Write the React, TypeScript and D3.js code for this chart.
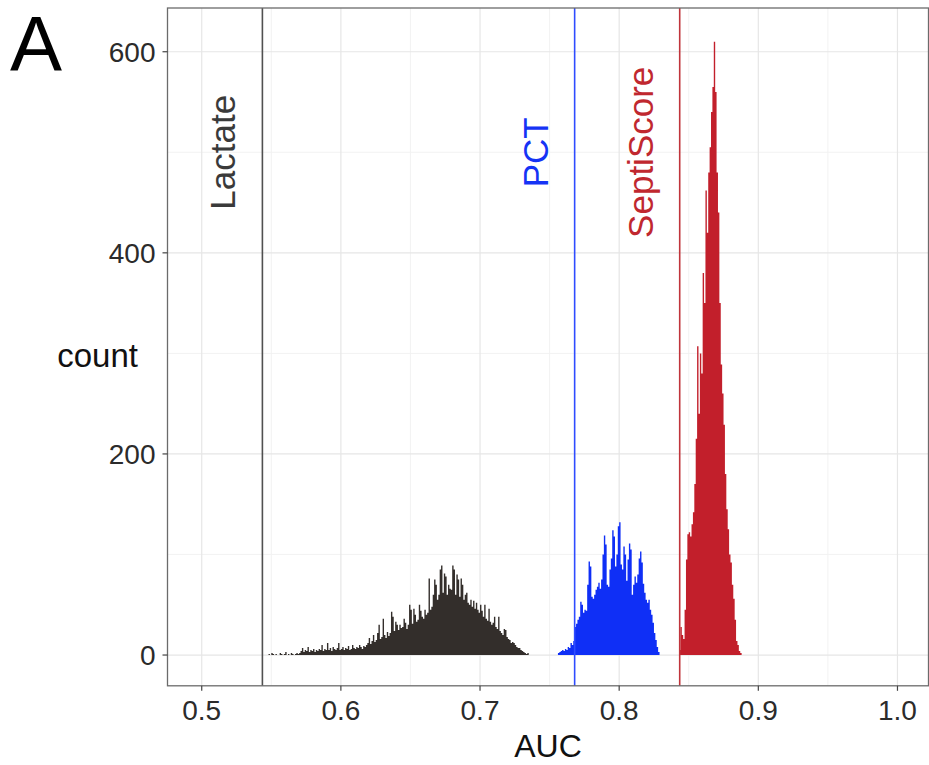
import React from "react";
import * as d3 from "d3";

// ---------- data ----------
const BIN_WIDTH = 0.001;

const lactateStart = 0.548;
const lactateCounts = [
  1, 0, 2, 1, 0, 1, 0, 0, 2, 1, 0, 1, 3, 0, 1, 0, 2, 1, 0, 1, 2, 1, 2,
  4, 7, 3, 5, 4, 8, 3, 5, 4, 6,
  3, 5, 4, 6, 5, 10, 4, 6, 5, 12,
  5, 7, 4, 8, 6, 5, 7, 12, 5, 6,
  8, 5, 7, 6, 9, 5, 6, 10, 7, 6,
  8, 7, 10, 8, 6, 9, 8,
  10, 12, 17, 11, 14, 20, 13, 15, 22, 30, 16, 18, 36, 20, 17, 23, 19,
  22, 43, 38, 24, 33, 30, 25, 30, 27, 28,
  36, 32, 26, 30, 50, 45, 31, 46, 40, 33,
  35, 50, 44, 38, 36, 45, 40, 42, 76,
  45, 48, 60, 75, 70, 55, 60, 85, 89, 62,
  81, 78, 60, 70, 66, 65, 89, 85, 60, 80,
  75, 58, 76, 70, 55, 60, 62, 52, 50, 55,
  48, 54, 46, 52, 45, 42, 50, 44,
  38, 50, 36, 34, 46, 33, 30, 32, 38, 28,
  26, 38, 24, 22, 20, 26, 25, 18, 16, 15,
  12, 13, 12, 10, 8, 7, 7, 5, 4, 3,
  2, 1, 2,
];

const pctStart = 0.756;
const pctCounts = [
  2, 3, 4, 5, 4, 6, 5, 8, 7, 12,
  10, 14, 28, 31, 35, 38, 53, 50, 42, 45,
  44, 70, 93, 88, 58, 56, 60, 65, 68, 72,
  66, 75, 100, 119, 110, 70, 68, 85, 96, 124,
  118, 88, 100, 128, 132, 90, 85, 108, 100, 74,
  95, 111, 105, 60, 70, 78, 72, 80, 96, 103,
  92, 71, 62, 55, 52, 55, 45, 40, 32, 22,
  15, 8, 3,
];

const septiStart = 0.843;
const septiCounts = [
  5, 28, 20, 16, 45, 95, 120, 122, 118, 130,
  142, 170, 215, 307, 240, 300, 280, 380, 350, 462,
  420, 480, 505, 540, 565, 610, 560, 480, 440, 350,
  289, 260, 229, 180, 145, 125, 100, 92, 70, 56,
  35, 14, 10, 4, 2,
];

const refNames = ["Lactate", "PCT", "SeptiScore"];
const refAUC = [0.5436, 0.768, 0.8435];
const labelCount = 500;

const xTicks = [0.5, 0.6, 0.7, 0.8, 0.9, 1.0];
const xTickLabels = ["0.5", "0.6", "0.7", "0.8", "0.9", "1.0"];
const xMinor = [0.55, 0.65, 0.75, 0.85, 0.95];
const yTicks = [0, 200, 400, 600];
const yTickLabels = ["0", "200", "400", "600"];
const yMinor = [100, 300, 500];

// ---------- styles ----------
const FONT = "'Liberation Sans', Arial, Helvetica, sans-serif";
const histColors = ["#332e2b", "#0f2ff6", "#c21f2b"];
const lineColors = ["#505050", "#2f4cff", "#c0343b"];
const textColors = ["#3a3a3a", "#1533f5", "#c0282f"];

const W = 929;
const H = 765;
const panel = { left: 167.5, right: 928.5, top: 8, bottom: 685.8 };

export default function App() {
  const x = d3.scaleLinear().domain([0.4754, 1.0223]).range([panel.left, panel.right]);
  const y = d3.scaleLinear().domain([-30.6, 643.5]).range([panel.bottom, panel.top]);

  const series = [
    { start: lactateStart, counts: lactateCounts },
    { start: pctStart, counts: pctCounts },
    { start: septiStart, counts: septiCounts },
  ];

  const area = d3
    .area<{ a: number; c: number }>()
    .x((d) => x(d.a))
    .y0(y(0))
    .y1((d) => y(d.c))
    .curve(d3.curveStepAfter);

  const paths = series.map((s) => {
    const pts = s.counts.map((c, i) => ({ a: s.start + i * BIN_WIDTH, c }));
    pts.push({ a: s.start + s.counts.length * BIN_WIDTH, c: s.counts[s.counts.length - 1] });
    return area(pts) || "";
  });

  return (
    <svg
      width={W}
      height={H}
      style={{ position: "absolute", left: 0, top: 0, background: "#fff" }}
      fontFamily={FONT}
    >
      <rect x={0} y={0} width={W} height={H} fill="#fff" />
      {/* minor grid */}
      {xMinor.map((v) => (
        <line key={"xm" + v} x1={x(v)} x2={x(v)} y1={panel.top} y2={panel.bottom} stroke="#f0f0f0" strokeWidth={0.9} />
      ))}
      {yMinor.map((v) => (
        <line key={"ym" + v} x1={panel.left} x2={panel.right} y1={y(v)} y2={y(v)} stroke="#f0f0f0" strokeWidth={0.9} />
      ))}
      {/* major grid */}
      {xTicks.map((v) => (
        <line key={"xg" + v} x1={x(v)} x2={x(v)} y1={panel.top} y2={panel.bottom} stroke="#e6e6e6" strokeWidth={1.2} />
      ))}
      {yTicks.map((v) => (
        <line key={"yg" + v} x1={panel.left} x2={panel.right} y1={y(v)} y2={y(v)} stroke="#e6e6e6" strokeWidth={1.2} />
      ))}

      {/* histograms */}
      {paths.map((d, i) => (
        <path key={"h" + i} d={d} fill={histColors[i]} />
      ))}

      {/* reference lines */}
      {refAUC.map((v, i) => (
        <line key={"rl" + i} x1={x(v)} x2={x(v)} y1={panel.top} y2={panel.bottom} stroke={lineColors[i]} strokeWidth={1.6} />
      ))}
      {refNames.map((n, i) => (
        <text
          key={"rt" + i}
          transform={`translate(${x(refAUC[i]) - 27},${y(labelCount)}) rotate(-90)`}
          textAnchor="middle"
          fontSize={35}
          fill={textColors[i]}
        >
          {n}
        </text>
      ))}

      {/* panel border */}
      <rect
        x={panel.left}
        y={panel.top}
        width={panel.right - panel.left}
        height={panel.bottom - panel.top}
        fill="none"
        stroke="#6b6b6b"
        strokeWidth={1.3}
      />

      {/* axes ticks */}
      {yTicks.map((v, i) => (
        <g key={"yt" + v}>
          <line x1={panel.left - 5} x2={panel.left} y1={y(v)} y2={y(v)} stroke="#444" strokeWidth={1.2} />
          <text x={panel.left - 12} y={y(v)} dy="0.36em" textAnchor="end" fontSize={28} fill="#2b2b2b">
            {yTickLabels[i]}
          </text>
        </g>
      ))}
      {xTicks.map((v, i) => (
        <g key={"xt" + v}>
          <line x1={x(v)} x2={x(v)} y1={panel.bottom} y2={panel.bottom + 5} stroke="#444" strokeWidth={1.2} />
          <text x={x(v)} y={720} textAnchor="middle" fontSize={28} fill="#2b2b2b">
            {xTickLabels[i]}
          </text>
        </g>
      ))}

      {/* axis titles */}
      <text x={(panel.left + panel.right) / 2} y={757} textAnchor="middle" fontSize={32} fill="#111">
        AUC
      </text>
      <text x={138} y={367} textAnchor="end" fontSize={33} fill="#111">
        count
      </text>

      {/* panel tag */}
      <text x={10} y={71} fontSize={78} fill="#000">
        A
      </text>
    </svg>
  );
}
